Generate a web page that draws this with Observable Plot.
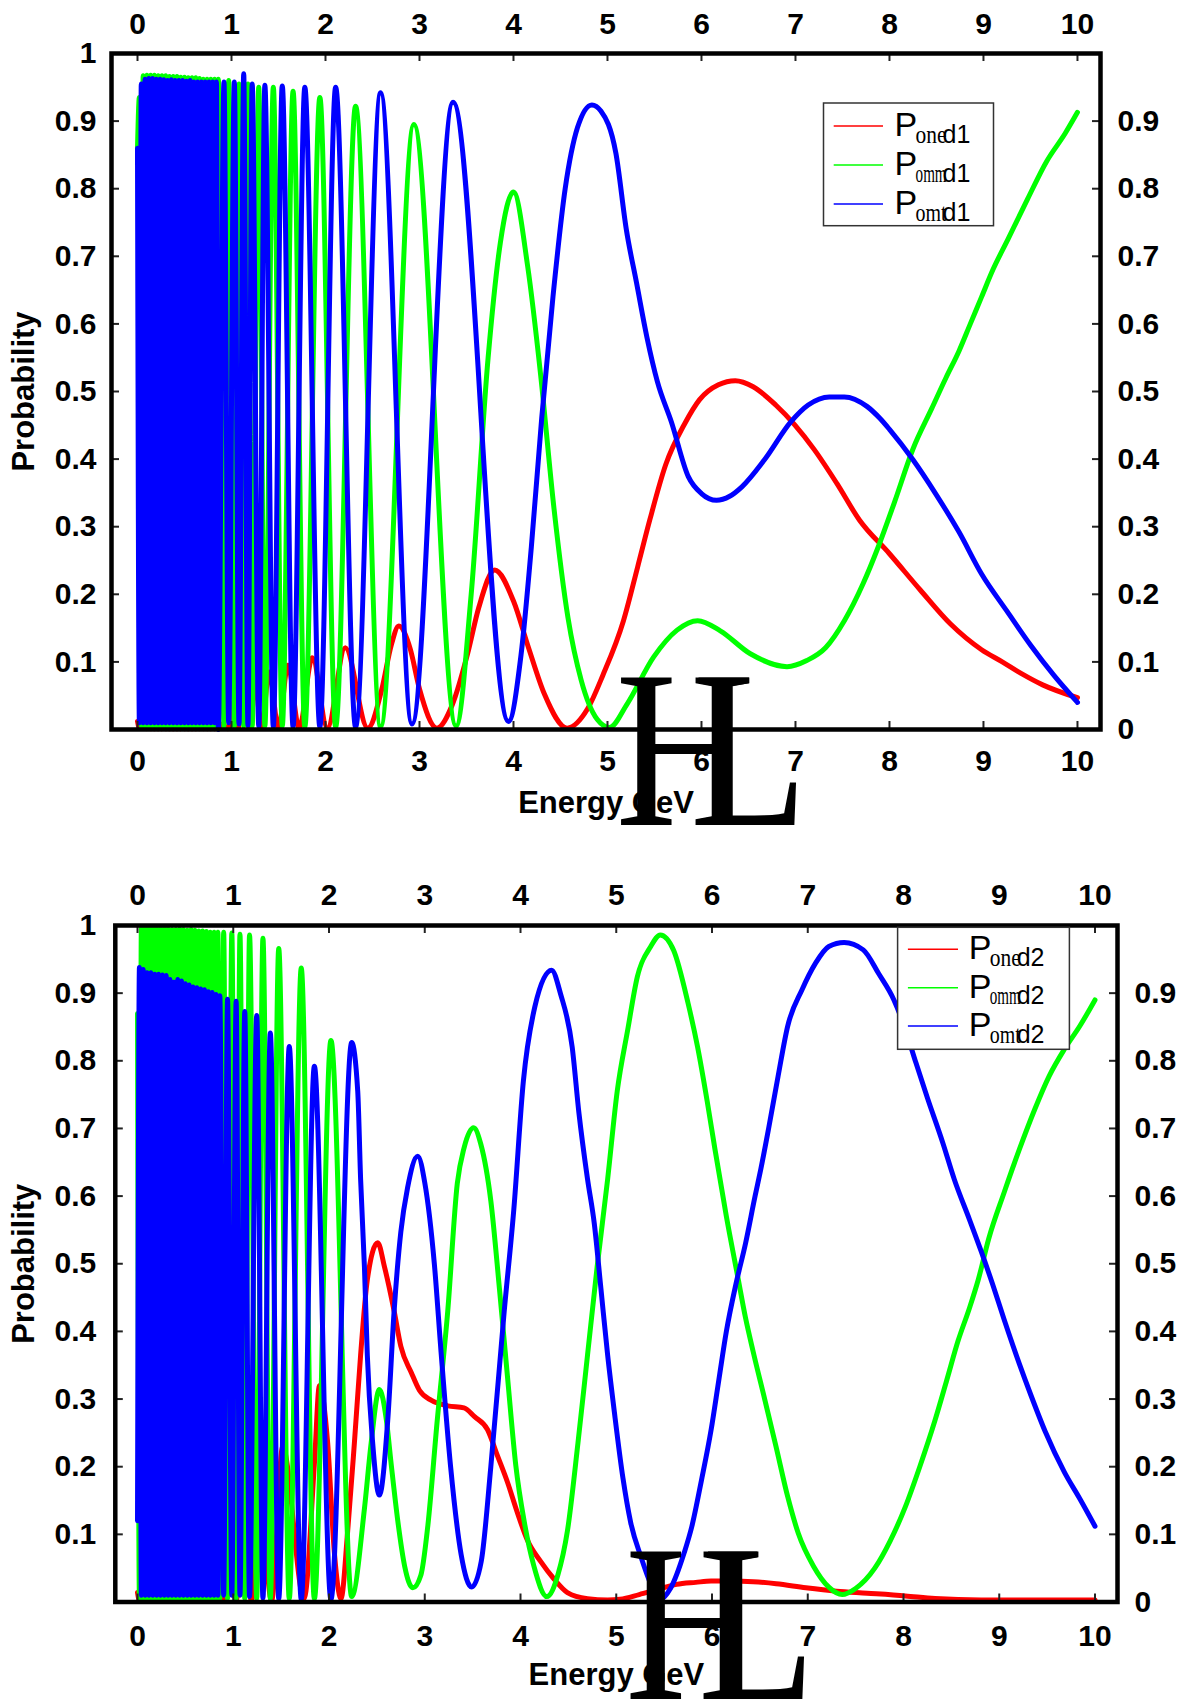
<!DOCTYPE html>
<html><head><meta charset="utf-8">
<script src="https://cdn.jsdelivr.net/npm/d3@7"></script>
<script src="https://cdn.jsdelivr.net/npm/@observablehq/plot@0.6"></script>
<style>
html,body{margin:0;padding:0;background:#fff;}
#root{position:relative;width:1196px;height:1699px;overflow:hidden;background:#fff;}
#root svg{position:absolute;left:0;}
</style></head><body><div id="root"></div>
<script>
// ---------- tick values and labels ----------
const xTicks = [0,1,2,3,4,5,6,7,8,9,10];
const xTickLabels = ["0","1","2","3","4","5","6","7","8","9","10"];
const yLeftTicks = [0.1,0.2,0.3,0.4,0.5,0.6,0.7,0.8,0.9,1];
const yLeftLabels = ["0.1","0.2","0.3","0.4","0.5","0.6","0.7","0.8","0.9","1"];
const yRightTicks = [0,0.1,0.2,0.3,0.4,0.5,0.6,0.7,0.8,0.9];
const yRightLabels = ["0","0.1","0.2","0.3","0.4","0.5","0.6","0.7","0.8","0.9"];
const yInnerTicks = [0.1,0.2,0.3,0.4,0.5,0.6,0.7,0.8,0.9];

// ---------- series ----------
const seriesColors = ["#ff0000", "#00ff00", "#0000ff"];
const legendSub = ["one", "omm", "omt"];
const legendTail1 = "d1";
const legendTail2 = "d2";
const xTitle = "Energy GeV";
const yTitle = "Probability";

// energies of the densely oscillating low-energy part (0 .. 0.86 GeV)
const denseE = [0,0.02,0.04,0.06,0.08,0.1,0.12,0.14,0.16,0.18,0.2,0.22,0.24,0.26,0.28,0.3,0.32,0.34,0.36,0.38,0.4,0.42,0.44,0.46,0.48,0.5,0.52,0.54,0.56,0.58,0.6,0.62,0.64,0.66,0.68,0.7,0.72,0.74,0.76,0.78,0.8,0.82,0.84,0.86];

// ---- panel 1 (d1) ----
const p1RedDense = [0.012,0.002,0.008,0.002,0.006,0.001,0.006,0.001,0.005,0.001,0.005,0.001,0.005,0.001,0.006,0.001,0.005,0.001,0.005,0.001,0.005,0.001,0.005,0.001,0.006,0.001,0.005,0.001,0.005,0.001,0.005,0.001,0.005,0.001,0.006,0.001,0.006,0.001,0.007,0.001,0.008,0.001,0.01,0.002];
const p1GreenDense = [0.86,0.935,0.005,0.967,0.005,0.968,0.005,0.968,0.005,0.968,0.005,0.967,0.005,0.967,0.005,0.967,0.005,0.966,0.005,0.966,0.005,0.966,0.005,0.965,0.005,0.965,0.005,0.964,0.005,0.964,0.005,0.964,0.005,0.963,0.005,0.962,0.005,0.962,0.005,0.962,0.005,0.962,0.005,0.962];
const p1BlueDense = [0.86,0.01,0.955,0.01,0.962,0.01,0.963,0.01,0.963,0.01,0.962,0.01,0.962,0.01,0.961,0.01,0.96,0.01,0.961,0.01,0.96,0.01,0.96,0.01,0.96,0.01,0.959,0.01,0.96,0.01,0.958,0.01,0.958,0.01,0.958,0.01,0.958,0.01,0.958,0.01,0.958,0.01,0.958,0.0];

const p1RedSparse = [[0.9,0.008],[0.96,0.001],[1.02,0.04],[1.07,0.002],[1.12,0.055],[1.19,0.002],[1.25,0.07],[1.32,0.002],[1.4,0.085],[1.5,0.002],[1.6,0.095],[1.72,0.002],[1.86,0.106],[2.02,0.002],[2.21,0.121],[2.45,0.002],[2.6,0.06],[2.7,0.125],[2.78,0.153],[2.9,0.12],[3.0,0.06],[3.185,0.002],[3.35,0.037],[3.51,0.111],[3.63,0.18],[3.8,0.236],[4.0,0.19],[4.16,0.121],[4.33,0.052],[4.57,0.002],[4.79,0.031],[4.95,0.08],[5.17,0.161],[5.32,0.24],[5.45,0.31],[5.62,0.392],[5.82,0.452],[5.98,0.488],[6.18,0.51],[6.36,0.516],[6.55,0.507],[6.79,0.48],[6.99,0.451],[7.2,0.414],[7.44,0.364],[7.68,0.31],[8.0,0.26],[8.33,0.206],[8.65,0.156],[8.98,0.118],[9.2,0.1],[9.4,0.083],[9.63,0.066],[10.0,0.047]];
const p1GreenSparse = [[0.92,0.005],[0.97,0.96],[1.03,0.005],[1.08,0.955],[1.13,0.005],[1.175,0.955],[1.22,0.005],[1.29,0.95],[1.355,0.005],[1.445,0.95],[1.54,0.005],[1.655,0.944],[1.78,0.004],[1.94,0.935],[2.108,0.004],[2.32,0.922],[2.586,0.004],[2.94,0.895],[3.39,0.005],[3.55,0.2],[3.73,0.55],[3.86,0.72],[4.0,0.795],[4.15,0.686],[4.29,0.523],[4.43,0.328],[4.58,0.165],[4.72,0.073],[4.89,0.015],[5.02,0.003],[5.21,0.038],[5.49,0.107],[5.74,0.147],[5.96,0.161],[6.2,0.146],[6.52,0.112],[6.91,0.093],[7.12,0.102],[7.32,0.121],[7.52,0.161],[7.72,0.216],[7.88,0.27],[8.05,0.335],[8.25,0.415],[8.45,0.475],[8.6,0.52],[8.74,0.56],[8.86,0.6],[8.98,0.64],[9.1,0.68],[9.26,0.725],[9.47,0.785],[9.67,0.84],[9.87,0.882],[10.0,0.913]];
const p1BlueSparse = [[0.92,0.958],[0.97,0.01],[1.03,0.958],[1.08,0.008],[1.13,0.97],[1.175,0.006],[1.22,0.955],[1.29,0.005],[1.355,0.953],[1.445,0.004],[1.54,0.952],[1.655,0.004],[1.78,0.95],[1.94,0.004],[2.108,0.95],[2.32,0.004],[2.586,0.942],[2.92,0.008],[3.357,0.928],[3.947,0.012],[4.08,0.11],[4.19,0.27],[4.3,0.46],[4.42,0.64],[4.55,0.8],[4.68,0.89],[4.834,0.924],[4.93,0.915],[5.09,0.852],[5.2,0.74],[5.31,0.66],[5.42,0.58],[5.53,0.515],[5.68,0.455],[5.86,0.374],[6.0,0.349],[6.16,0.339],[6.3,0.345],[6.43,0.359],[6.67,0.399],[6.95,0.455],[7.135,0.48],[7.36,0.492],[7.52,0.492],[7.76,0.478],[7.9,0.46],[8.0,0.444],[8.25,0.399],[8.49,0.349],[8.74,0.292],[8.98,0.23],[9.25,0.175],[9.5,0.125],[9.75,0.08],[10.0,0.04]];

// ---- panel 2 (d2) ----
const p2RedDense = [0.014,0.002,0.008,0.002,0.006,0.001,0.005,0.001,0.006,0.001,0.005,0.001,0.005,0.001,0.005,0.001,0.006,0.001,0.005,0.001,0.005,0.001,0.006,0.001,0.005,0.001,0.005,0.001,0.005,0.001,0.006,0.001,0.005,0.001,0.006,0.001,0.006,0.001,0.007,0.001,0.008,0.001,0.01,0.002];
const p2GreenDense = [0.87,0.005,0.997,0.005,0.997,0.005,0.996,0.005,0.997,0.005,0.996,0.005,0.995,0.005,0.996,0.005,0.995,0.005,0.994,0.005,0.994,0.005,0.995,0.005,0.994,0.005,0.993,0.005,0.994,0.005,0.993,0.005,0.992,0.005,0.992,0.005,0.991,0.005,0.99,0.005,0.99,0.005,0.99,0.005];
const p2BlueDense = [0.12,0.938,0.01,0.935,0.01,0.93,0.01,0.93,0.01,0.928,0.01,0.928,0.01,0.927,0.01,0.926,0.01,0.92,0.01,0.916,0.01,0.92,0.01,0.918,0.01,0.914,0.01,0.912,0.01,0.909,0.01,0.908,0.01,0.906,0.01,0.905,0.01,0.902,0.01,0.901,0.01,0.898,0.01,0.896];

const p2RedSparse = [[0.9,0.005],[0.967,0.05],[1.03,0.002],[1.1,0.1],[1.19,0.002],[1.28,0.15],[1.4,0.002],[1.516,0.229],[1.74,0.005],[1.847,0.203],[1.9,0.32],[1.986,0.235],[2.056,0.073],[2.125,0.005],[2.195,0.105],[2.265,0.235],[2.33,0.365],[2.4,0.476],[2.509,0.531],[2.58,0.495],[2.68,0.43],[2.75,0.378],[2.86,0.339],[2.944,0.313],[3.07,0.298],[3.24,0.29],[3.41,0.287],[3.52,0.274],[3.655,0.255],[3.76,0.216],[3.864,0.177],[3.97,0.131],[4.07,0.092],[4.21,0.06],[4.35,0.034],[4.49,0.014],[4.7,0.005],[4.91,0.003],[5.04,0.004],[5.24,0.011],[5.44,0.019],[5.63,0.026],[5.83,0.029],[5.99,0.031],[6.2,0.031],[6.43,0.03],[6.67,0.027],[6.98,0.021],[7.3,0.016],[7.62,0.013],[8.02,0.009],[8.33,0.005],[8.81,0.003],[10.0,0.003]];
const p2GreenSparse = [[0.9,0.99],[0.94,0.005],[0.985,0.989],[1.03,0.005],[1.07,0.987],[1.12,0.005],[1.17,0.986],[1.245,0.005],[1.31,0.981],[1.387,0.005],[1.475,0.966],[1.585,0.005],[1.71,0.937],[1.847,0.005],[2.02,0.83],[2.237,0.008],[2.37,0.138],[2.44,0.235],[2.526,0.314],[2.6,0.268],[2.65,0.203],[2.72,0.118],[2.79,0.053],[2.875,0.021],[2.96,0.04],[3.03,0.11],[3.13,0.268],[3.24,0.43],[3.34,0.619],[3.41,0.671],[3.51,0.701],[3.585,0.677],[3.69,0.593],[3.78,0.463],[3.864,0.333],[3.95,0.203],[4.04,0.118],[4.14,0.053],[4.275,0.008],[4.39,0.04],[4.49,0.105],[4.6,0.235],[4.7,0.365],[4.8,0.495],[4.91,0.625],[5.01,0.755],[5.12,0.846],[5.22,0.924],[5.36,0.969],[5.46,0.986],[5.6,0.963],[5.75,0.885],[5.85,0.82],[5.95,0.74],[6.03,0.67],[6.15,0.57],[6.27,0.48],[6.35,0.42],[6.43,0.37],[6.55,0.3],[6.67,0.229],[6.79,0.156],[6.9,0.102],[7.06,0.053],[7.22,0.022],[7.36,0.011],[7.5,0.02],[7.7,0.05],[7.86,0.09],[8.02,0.141],[8.17,0.2],[8.33,0.269],[8.45,0.327],[8.57,0.386],[8.69,0.435],[8.78,0.476],[8.89,0.537],[9.05,0.605],[9.21,0.669],[9.37,0.728],[9.52,0.777],[9.68,0.817],[9.84,0.851],[10.0,0.89]];
const p2BlueSparse = [[0.9,0.01],[0.94,0.891],[0.985,0.01],[1.03,0.888],[1.07,0.01],[1.12,0.873],[1.17,0.008],[1.245,0.867],[1.31,0.006],[1.387,0.841],[1.475,0.005],[1.585,0.821],[1.71,0.004],[1.847,0.792],[2.02,0.004],[2.237,0.827],[2.3,0.755],[2.33,0.625],[2.37,0.495],[2.4,0.365],[2.456,0.235],[2.526,0.158],[2.613,0.268],[2.68,0.43],[2.75,0.547],[2.82,0.612],[2.927,0.659],[3.0,0.62],[3.1,0.5],[3.17,0.37],[3.27,0.2],[3.38,0.07],[3.49,0.022],[3.59,0.06],[3.69,0.2],[3.83,0.43],[3.93,0.58],[4.03,0.77],[4.15,0.88],[4.324,0.934],[4.42,0.898],[4.54,0.82],[4.61,0.723],[4.7,0.625],[4.77,0.56],[4.84,0.463],[4.91,0.365],[4.98,0.281],[5.07,0.183],[5.15,0.118],[5.26,0.066],[5.36,0.027],[5.46,0.004],[5.57,0.021],[5.71,0.073],[5.79,0.112],[5.89,0.18],[5.99,0.254],[6.07,0.327],[6.15,0.4],[6.25,0.47],[6.35,0.53],[6.45,0.6],[6.51,0.64],[6.59,0.699],[6.69,0.777],[6.79,0.851],[6.94,0.905],[7.08,0.944],[7.22,0.969],[7.38,0.975],[7.58,0.964],[7.74,0.929],[7.9,0.89],[8.02,0.846],[8.13,0.797],[8.25,0.745],[8.41,0.679],[8.53,0.625],[8.69,0.565],[8.81,0.519],[8.93,0.47],[9.05,0.418],[9.21,0.352],[9.33,0.306],[9.48,0.252],[9.68,0.192],[9.84,0.153],[10.0,0.112]];

// ---------- helpers ----------
function rows(dense, sparse) {
  const out = [];
  dense.forEach((p, i) => { if (denseE[i] !== undefined) out.push({E: denseE[i], P: p}); });
  sparse.forEach(([E, P]) => out.push({E, P}));
  return out;
}
const FONT = "Liberation Sans, Arial, Helvetica, sans-serif";
const labeler = (ticks, labels) => d => labels[ticks.findIndex(t => Math.abs(t - d) < 1e-9)];

function panel(o) {
  const W = 1196;
  const frameH = o.height - o.mt - o.mb, frameW = W - o.ml - o.mr;
  const fnt = {fontFamily: FONT, fontWeight: "bold", fontSize: 30};
  const lineOpts = {x: "E", y: "P", strokeWidth: 5, curve: "monotone-x", strokeLinejoin: "round", strokeLinecap: "round"};
  const tickStyle = {stroke: "#222", strokeWidth: 2};
  return Plot.plot({
    width: W, height: o.height,
    marginTop: o.mt, marginBottom: o.mb, marginLeft: o.ml, marginRight: o.mr,
    x: {domain: o.xDomain, axis: null},
    y: {domain: [0, 1], axis: null},
    style: {background: "transparent", fontFamily: FONT, overflow: "visible", color: "black"},
    marks: [
      Plot.line(o.series[0], {...lineOpts, stroke: seriesColors[0]}),
      Plot.line(o.series[1], {...lineOpts, stroke: seriesColors[1]}),
      Plot.line(o.series[2], {...lineOpts, stroke: seriesColors[2]}),
      Plot.tickX(xTicks, {x: d => d, insetTop: frameH - 8, ...tickStyle}),
      Plot.tickX(xTicks, {x: d => d, insetBottom: frameH - 8, ...tickStyle}),
      Plot.tickY(yInnerTicks, {y: d => d, insetRight: frameW - 8, ...tickStyle}),
      Plot.tickY(yInnerTicks, {y: d => d, insetLeft: frameW - 8, ...tickStyle}),
      Plot.frame({stroke: "black", strokeWidth: 4.5}),
      Plot.axisX(xTicks, {anchor: "top", tickSize: 0, tickPadding: o.padTop, tickFormat: labeler(xTicks, xTickLabels), label: null, ...fnt}),
      Plot.axisX(xTicks, {anchor: "bottom", tickSize: 0, tickPadding: o.padBottom, tickFormat: labeler(xTicks, xTickLabels), label: null, ...fnt}),
      Plot.axisY(yLeftTicks, {anchor: "left", tickSize: 0, tickPadding: o.padLeft, tickFormat: labeler(yLeftTicks, yLeftLabels), label: null, ...fnt}),
      Plot.axisY(yRightTicks, {anchor: "right", tickSize: 0, tickPadding: o.padRight, tickFormat: labeler(yRightTicks, yRightLabels), label: null, ...fnt}),
      Plot.text([xTitle], {frameAnchor: "bottom", dy: o.titleDy, fontSize: 31, fontWeight: "bold", fontFamily: FONT, lineAnchor: "middle", textAnchor: "middle"}),
      Plot.text([yTitle], {frameAnchor: "left", dx: o.titleDx, rotate: -90, fontSize: 31, fontWeight: "bold", fontFamily: FONT, lineAnchor: "middle", textAnchor: "middle"})
    ]
  });
}

const root = document.getElementById("root");

const svg1 = panel({
  height: 850, mt: 53, mb: 121, ml: 111, mr: 96,
  xDomain: [-0.2766, 10.245],
  padTop: 20, padBottom: 20.4, padLeft: 15, padRight: 17,
  titleDy: 74, titleDx: -87.5,
  series: [rows(p1RedDense, p1RedSparse), rows(p1GreenDense, p1GreenSparse), rows(p1BlueDense, p1BlueSparse)]
});
svg1.style.top = "0px";
root.appendChild(svg1);

const svg2 = panel({
  height: 849, mt: 75, mb: 97.5, ml: 114.8, mr: 79,
  xDomain: [-0.232, 10.235],
  padTop: 21, padBottom: 22.9, padLeft: 19, padRight: 17,
  titleDy: 73.5, titleDx: -91.3,
  series: [rows(p2RedDense, p2RedSparse), rows(p2GreenDense, p2GreenSparse), rows(p2BlueDense, p2BlueSparse)]
});
svg2.style.top = "850px";
root.appendChild(svg2);

// ---------- legends and watermark overlay ----------
const ov = d3.select(root).append("svg")
  .attr("width", 1196).attr("height", 1699)
  .style("top", "0px").style("left", "0px").style("pointer-events", "none");

function legend(g, cfg, tail) {
  g.append("rect").attr("x", cfg.x).attr("y", cfg.y).attr("width", cfg.w).attr("height", cfg.h)
    .attr("fill", "#fff").attr("stroke", "#333").attr("stroke-width", 1.5);
  cfg.rows.forEach((ry, i) => {
    g.append("line").attr("x1", cfg.lx1).attr("x2", cfg.lx2).attr("y1", ry).attr("y2", ry)
      .attr("stroke", seriesColors[i]).attr("stroke-width", 1.5);
    g.append("text").attr("x", cfg.px).attr("y", ry + 10)
      .attr("font-family", FONT).attr("font-size", 34).attr("fill", "#000").text("P");
    g.append("text").attr("x", cfg.px + 21).attr("y", ry + 16.5)
      .attr("font-family", "Liberation Serif, Times New Roman, serif").attr("font-size", 26)
      .attr("textLength", 31).attr("lengthAdjust", "spacingAndGlyphs").attr("fill", "#000").text(legendSub[i]);
    g.append("text").attr("x", cfg.px + 48).attr("y", ry + 16.5)
      .attr("font-family", FONT).attr("font-size", 25).attr("fill", "#000").text(tail);
  });
}
legend(ov.append("g"), {x: 823.5, y: 103, w: 170, h: 122.7, lx1: 833.7, lx2: 883, px: 894.6, rows: [126, 165, 204]}, legendTail1);
legend(ov.append("g"), {x: 897.6, y: 927.3, w: 171.8, h: 122, lx1: 907.9, lx2: 958, px: 968.7, rows: [949.3, 987.7, 1026]}, legendTail2);

function watermark(x1, x2, base) {
  ov.append("text").attr("transform", `translate(${x1},${base}) scale(0.86,1)`)
    .attr("font-family", "Liberation Serif, Times New Roman, serif").attr("font-size", 224).attr("fill", "#000").text("H");
  ov.append("text").attr("transform", `translate(${x2},${base}) scale(0.86,1)`)
    .attr("font-family", "Liberation Serif, Times New Roman, serif").attr("font-size", 224).attr("fill", "#000").text("L");
}
watermark(615.5, 690, 825);
watermark(625, 698, 1699);
</script></body></html>
